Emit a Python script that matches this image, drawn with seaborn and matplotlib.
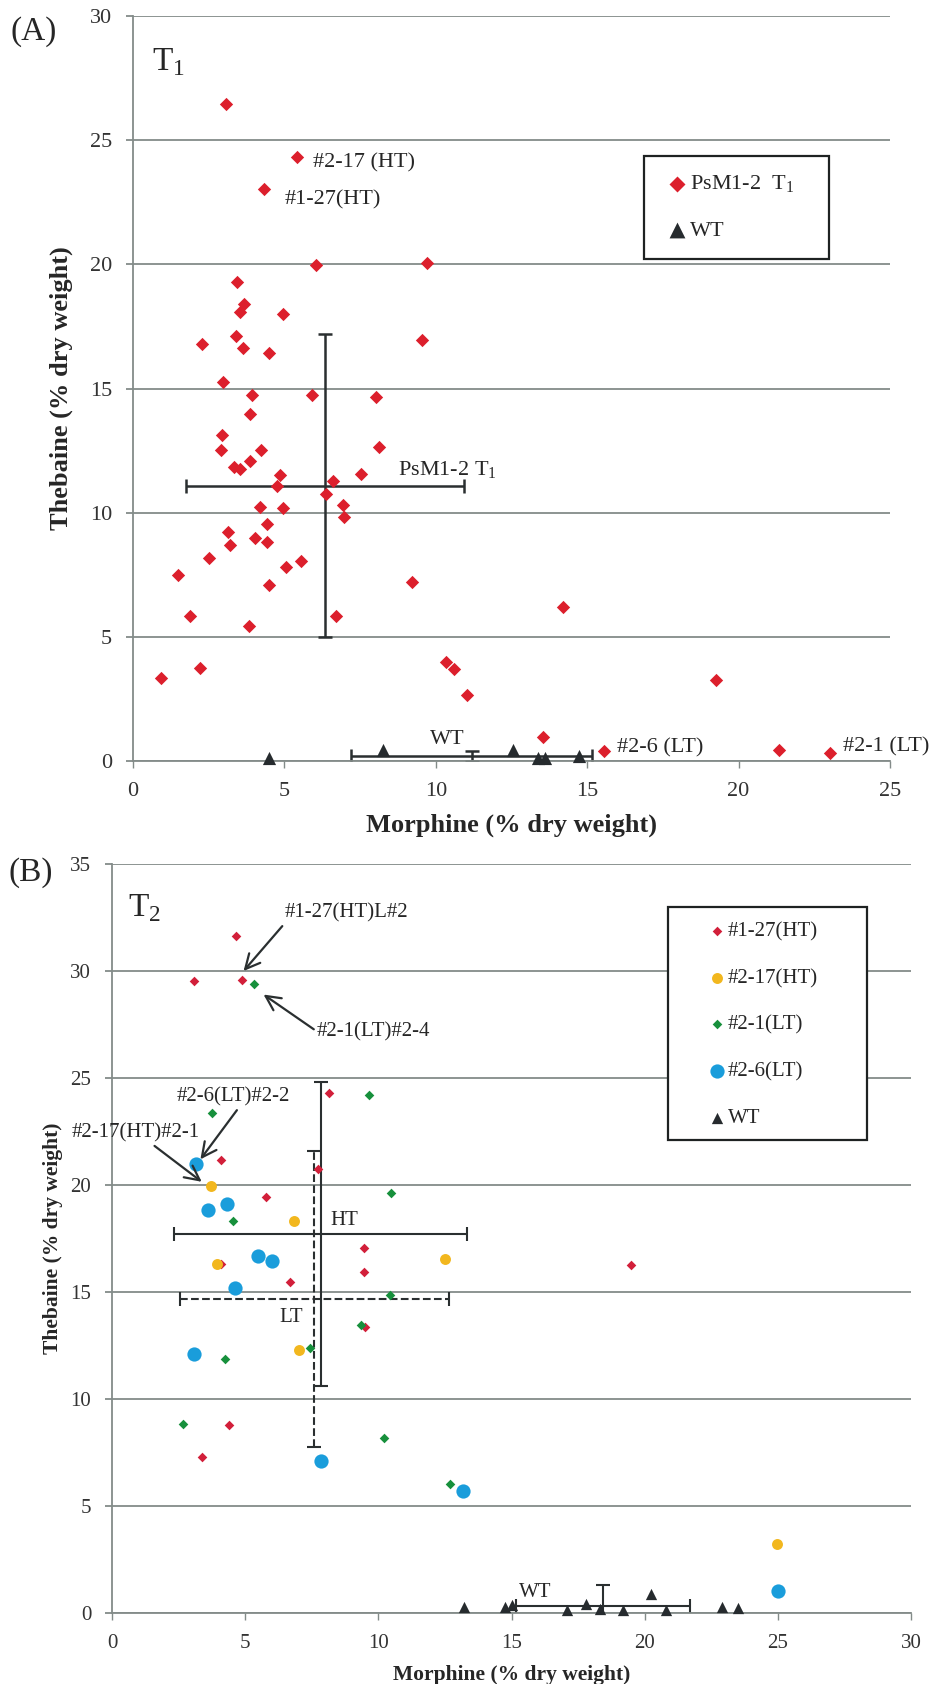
import matplotlib
matplotlib.use("Agg")
import matplotlib.pyplot as plt
import seaborn as sns
from matplotlib.patches import Rectangle


#############################  data  #############################
# (A) T1 generation, PsM1-2 plants
t1_morphine = [3.07, 5.43, 4.32, 6.05, 9.72, 3.44, 3.68, 3.52, 4.97, 3.41,
               2.28, 3.63, 4.50, 9.56, 2.97, 3.92, 5.90, 8.03, 3.88, 2.95,
               2.90, 3.88, 4.24, 8.14, 3.33, 3.55, 4.86, 7.54, 4.75, 6.61,
               6.39, 4.19, 4.97, 6.94, 6.96, 3.15, 4.43, 3.20, 4.04, 4.43,
               2.51, 5.06, 5.55, 1.48, 4.48, 9.23, 1.88, 3.83, 6.69, 0.91,
               2.22, 10.33, 10.60, 11.02, 13.53, 14.20, 19.25, 15.56, 21.33, 23.03]
t1_thebaine = [26.44, 24.33, 23.03, 19.96, 20.05, 19.29, 18.40, 18.09, 17.99, 17.13,
               16.79, 16.63, 16.41, 16.96, 15.25, 14.72, 14.72, 14.65, 13.96, 13.13,
               12.54, 12.10, 12.54, 12.64, 11.83, 11.77, 11.53, 11.56, 11.06, 11.29,
               10.74, 10.23, 10.20, 10.31, 9.84, 9.23, 9.55, 8.69, 8.99, 8.82,
               8.17, 7.83, 8.04, 7.50, 7.10, 7.20, 5.82, 5.44, 5.85, 3.34,
               3.73, 3.98, 3.71, 2.64, 0.97, 6.22, 3.25, 0.39, 0.43, 0.31]
wt1_morphine = [4.48, 8.25, 12.55, 13.38, 13.62, 14.72]
wt1_thebaine = [0.14, 0.46, 0.44, 0.12, 0.12, 0.22]

# mean +/- sd crosses in (A)
a_groups = ["PsM1-2", "WT"]
a_mean_m = [6.34, 11.19]
a_sd_m = [4.60, 3.98]
a_mean_t = [11.08, 0.20]
a_sd_t = [6.10, 0.20]

# (B) T2 generation, four lines
l127_morphine = [4.67, 3.07, 4.88, 8.14, 4.10, 7.72, 5.79, 9.45, 4.11, 9.46, 6.70, 9.51, 4.39, 3.37, 19.47]
l127_thebaine = [31.65, 29.53, 29.56, 24.30, 21.15, 20.76, 19.42, 17.06, 16.30, 15.95, 15.48, 13.36, 8.77, 7.28, 16.25]
l217_morphine = [3.73, 6.85, 3.95, 12.52, 7.02, 24.96]
l217_thebaine = [19.97, 18.30, 16.30, 16.55, 12.27, 3.22]
l21_morphine = [5.34, 9.64, 3.75, 10.49, 4.53, 10.43, 9.36, 7.45, 4.26, 2.67, 10.21, 12.68]
l21_thebaine = [29.37, 24.20, 23.35, 19.64, 18.30, 14.84, 13.44, 12.38, 11.88, 8.84, 8.17, 6.02]
l26_morphine = [3.17, 4.32, 3.59, 5.47, 6.01, 4.61, 3.08, 7.86, 13.18, 24.99]
l26_thebaine = [20.98, 19.13, 18.82, 16.70, 16.45, 15.17, 12.11, 7.08, 5.72, 1.03]
wt2_morphine = [13.22, 14.75, 15.03, 17.07, 17.78, 18.31, 19.20, 20.25, 20.79, 22.92, 23.51]
wt2_thebaine = [0.28, 0.30, 0.36, 0.16, 0.44, 0.20, 0.12, 0.90, 0.12, 0.28, 0.23]

# mean +/- sd crosses in (B)
b_groups = ["HT", "LT", "WT"]
b_mean_m = [7.83, 7.60, 18.45]
b_sd_m = [5.50, 5.05, 3.27]
b_mean_t = [17.70, 14.68, 0.31]
b_sd_t = [7.10, 6.90, 1.02]


#############################  style  #############################
sns.set_style("white")
plt.rcParams["font.family"] = ["Liberation Serif", "DejaVu Serif"]
plt.rcParams["mathtext.fontset"] = "custom"
plt.rcParams["mathtext.rm"] = "Liberation Serif"

GRID = "#838b89"
DARK = "#2a2f30"
RED = "#dc1f2c"
RED_B = "#d21f3a"
YELLOW = "#f2b71e"
GREEN = "#17903c"
BLUE = "#1a9ddb"
TRI = "#262b2e"

fig = plt.figure(figsize=(9.43, 16.84), dpi=100)
ax_a = fig.add_axes([133 / 943, 1 - 761 / 1684, 757 / 943, 745 / 1684])
ax_b = fig.add_axes([112 / 943, 1 - 1613 / 1684, 799 / 943, 749 / 1684])


def style_axes(ax, xmax, ymax, tick_size, label_size):
    ax.set_xlim(0, xmax)
    ax.set_ylim(0, ymax)
    ax.set_xticks(range(0, xmax + 1, 5))
    ax.set_yticks(range(0, ymax + 1, 5))
    ax.set_axisbelow(True)
    ax.grid(axis="y", color=GRID, lw=1.3)
    ax.grid(axis="x", visible=False)
    for side in ["top", "right"]:
        ax.spines[side].set_visible(False)
    for side in ["left", "bottom"]:
        ax.spines[side].set_color(GRID)
        ax.spines[side].set_linewidth(1.3)
    ax.tick_params(axis="y", left=True, length=5, width=1.3, color=GRID,
                   pad=10, labelsize=tick_size, labelcolor="#333333")
    ax.tick_params(axis="x", bottom=True, length=5, width=1.0, color=GRID,
                   pad=10, labelsize=tick_size, labelcolor="#333333")
    ax.set_xlabel("Morphine (% dry weight)", fontsize=label_size,
                  fontweight="bold", labelpad=9)
    ax.set_ylabel("Thebaine (% dry weight)", fontsize=label_size,
                  fontweight="bold")


#############################  (A) T1  #############################
ax = ax_a
style_axes(ax, 25, 30, 16, 19)
ax.yaxis.set_label_coords(-0.079, 0.5)

for i in range(len(a_groups)):
    ax.errorbar(a_mean_m[i], a_mean_t[i], xerr=a_sd_m[i], yerr=a_sd_t[i],
                fmt="none", ecolor=DARK, elinewidth=1.8, capsize=5,
                capthick=1.8, zorder=2)

sns.scatterplot(x=t1_morphine, y=t1_thebaine, marker="D", color=RED, s=46,
                linewidth=0, ax=ax, zorder=3, label="PsM1-2  T$_\\mathregular{1}$")
sns.scatterplot(x=wt1_morphine, y=wt1_thebaine, marker="^", color=TRI, s=90,
                linewidth=0, ax=ax, zorder=3, clip_on=False, label="WT")

ax.text(0.63, 28.15, "T$_\\mathregular{1}$", fontsize=24, va="center")
ax.text(5.95, 24.08, "#2-17 (HT)", fontsize=16, va="center")
ax.text(5.02, 22.6, "#1-27(HT)", fontsize=16, va="center")
ax.text(8.76, 11.72, "PsM1-2 T$_\\mathregular{1}$", fontsize=16, va="center")
ax.text(9.81, 0.85, "WT", fontsize=16, va="center")
ax.text(15.97, 0.51, "#2-6 (LT)", fontsize=16, va="center")
ax.text(23.46, 0.58, "#2-1 (LT)", fontsize=16, va="center", clip_on=False)

h, l = ax.get_legend_handles_labels()
ax.add_patch(Rectangle((0.675, 0.674), 0.244, 0.138, transform=ax.transAxes,
                       facecolor="white", edgecolor="#1e2222", lw=1.6, zorder=4))
ax.legend(h, l, loc="center left", bbox_to_anchor=(0.7065, 0.743), frameon=False,
          fontsize=16, handlelength=0.8, handletextpad=0.2, labelspacing=1.15,
          markerscale=1.2, borderpad=0, borderaxespad=0).set_zorder(5)

fig.text(10 / 943, 1 - 32 / 1684, "(A)", fontsize=24, va="center")


#############################  (B) T2  #############################
ax = ax_b
style_axes(ax, 30, 35, 15, 15.5)
ax.yaxis.set_label_coords(-0.061, 0.5)

styles = ["-", "--", "-"]
for i in range(len(b_groups)):
    eb = ax.errorbar(b_mean_m[i], b_mean_t[i], xerr=b_sd_m[i], yerr=b_sd_t[i],
                     fmt="none", ecolor=DARK, elinewidth=1.5, capsize=5,
                     capthick=1.5, zorder=2)
    eb[2][0].set_linestyle(styles[i])
    eb[2][1].set_linestyle(styles[i])

sns.scatterplot(x=l127_morphine, y=l127_thebaine, marker="D", color=RED_B, s=24,
                linewidth=0, ax=ax, zorder=3, label="#1-27(HT)")
sns.scatterplot(x=l217_morphine, y=l217_thebaine, marker="o", color=YELLOW, s=62,
                linewidth=0, ax=ax, zorder=3, label="#2-17(HT)")
sns.scatterplot(x=l21_morphine, y=l21_thebaine, marker="D", color=GREEN, s=24,
                linewidth=0, ax=ax, zorder=3, label="#2-1(LT)")
sns.scatterplot(x=l26_morphine, y=l26_thebaine, marker="o", color=BLUE, s=105,
                linewidth=0, ax=ax, zorder=3, label="#2-6(LT)")
sns.scatterplot(x=wt2_morphine, y=wt2_thebaine, marker="^", color=TRI, s=66,
                linewidth=0, ax=ax, zorder=3, clip_on=False, label="WT")

ax.text(0.6, 32.94, "T$_\\mathregular{2}$", fontsize=24, va="center")
ax.text(8.2, 18.35, "HT", fontsize=15, va="center")
ax.text(6.3, 13.8, "LT", fontsize=15, va="center")
ax.text(15.28, 0.94, "WT", fontsize=15, va="center")

arrow = dict(arrowstyle="->,head_length=0.7,head_width=0.35", color=DARK,
             lw=1.6, shrinkA=0, shrinkB=0)
ax.annotate("#1-27(HT)L#2", xy=(4.94, 30.0), xytext=(6.5, 32.7), fontsize=15,
            va="center", arrowprops=dict(arrow, relpos=(0.0, 0.0)))
ax.annotate("#2-1(LT)#2-4", xy=(5.69, 28.9), xytext=(7.7, 27.17), fontsize=15,
            va="center", arrowprops=dict(arrow, relpos=(0.0, 0.5)))
ax.annotate("#2-6(LT)#2-2", xy=(3.32, 21.2), xytext=(2.44, 24.1), fontsize=15,
            va="center", arrowprops=dict(arrow, relpos=(0.55, 0.0)))
ax.annotate("#2-17(HT)#2-1", xy=(3.37, 20.15), xytext=(-1.5, 22.43), fontsize=15,
            va="center", annotation_clip=False,
            arrowprops=dict(arrow, relpos=(0.61, 0.0)))

h, l = ax.get_legend_handles_labels()
ax.add_patch(Rectangle((0.696, 0.632), 0.249, 0.311, transform=ax.transAxes,
                       facecolor="white", edgecolor="#1e2222", lw=1.6, zorder=4))
ax.legend(h, l, loc="center left", bbox_to_anchor=(0.749, 0.785), frameon=False,
          fontsize=15, handlelength=0.6, handletextpad=0.23, labelspacing=1.3,
          borderpad=0, borderaxespad=0).set_zorder(5)

fig.text(8 / 943, 1 - 873 / 1684, "(B)", fontsize=24, va="center")

plt.savefig("out.png", dpi=100)
